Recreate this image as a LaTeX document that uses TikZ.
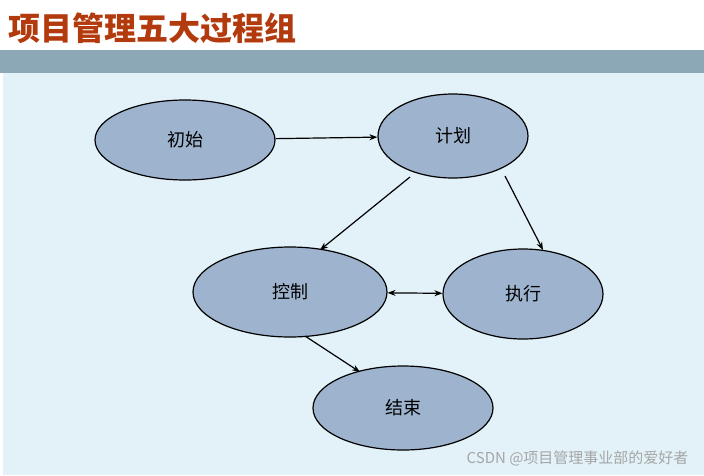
\documentclass[tikz,border=0pt]{standalone}
\usepackage{fontspec}
\newfontfamily\cjk{Noto Sans CJK SC}
\usetikzlibrary{shapes.geometric,arrows.meta}
\definecolor{titlered}{RGB}{178,58,12}
\definecolor{band}{RGB}{140,168,182}
\definecolor{panel}{RGB}{226,242,248}
\definecolor{ellfill}{RGB}{158,180,206}
\tikzset{
  proc/.style={ellipse,draw=black,line width=1.2pt,fill=ellfill,font=\cjk\fontsize{18}{20}\selectfont,inner sep=0pt},
  conn/.style={line width=1.2pt,-{Stealth[length=8pt,width=6pt]}}
}
\begin{document}
\begin{tikzpicture}[x=1pt,y=-1pt]
\useasboundingbox (0,0) rectangle (704,475);
\fill[white] (0,0) rectangle (704,50);
\fill[band] (0,50) rectangle (704,73);
\fill[panel] (3,73) rectangle (704,475);
\node[anchor=west,text=titlered,font=\cjk\bfseries\fontsize{32}{34}\selectfont,inner sep=0pt] (title) at (8,28) {项目管理五大过程组};
\node[proc,minimum width=180pt,minimum height=80pt] (a) at (185,140) {初始};
\node[proc,minimum width=150pt,minimum height=84pt] (b) at (453,136) {计划};
\node[proc,minimum width=194pt,minimum height=90pt] (c) at (290,292) {控制};
\node[proc,minimum width=160pt,minimum height=90pt] (d) at (523,294) {执行};
\node[proc,minimum width=180pt,minimum height=84pt] (e) at (403,408) {结束};
\draw[conn] (a) -- (b);
\draw[conn] (410,177) -- (320,250);
\draw[conn] (505,176) -- (543,250);
\draw[conn,{Stealth[length=8pt,width=6pt]}-{Stealth[length=8pt,width=6pt]}] (c) -- (d);
\draw[conn] (305,336) -- (360,372);
\node[anchor=east,text=black!35,font=\cjk\fontsize{15}{16}\selectfont] (wm) at (692,458) {CSDN @项目管理事业部的爱好者};
\end{tikzpicture}
\end{document}
